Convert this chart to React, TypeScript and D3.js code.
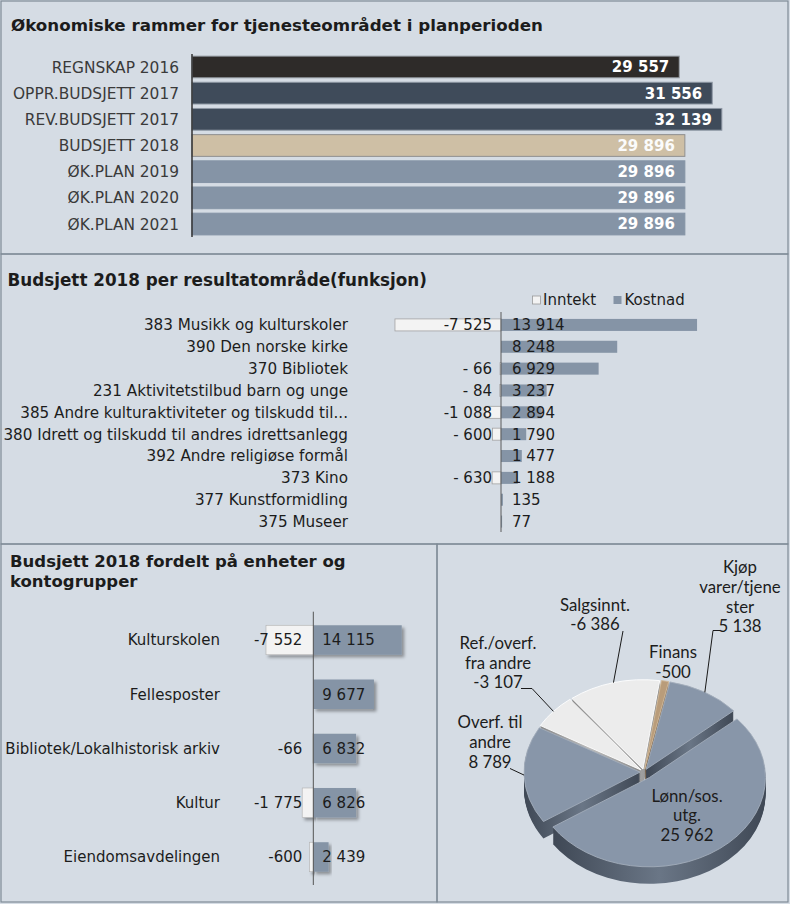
import React from "react";
import * as d3 from "d3";

// ---------- DATA ----------
const frameCategories = [
  "REGNSKAP 2016",
  "OPPR.BUDSJETT 2017",
  "REV.BUDSJETT 2017",
  "BUDSJETT 2018",
  "ØK.PLAN 2019",
  "ØK.PLAN 2020",
  "ØK.PLAN 2021",
];
const frameValues = [29557, 31556, 32139, 29896, 29896, 29896, 29896];

const functionCategories = [
  "383 Musikk og kulturskoler",
  "390 Den norske kirke",
  "370 Bibliotek",
  "231 Aktivitetstilbud barn og unge",
  "385 Andre kulturaktiviteter og tilskudd til...",
  "380 Idrett og tilskudd til andres idrettsanlegg",
  "392 Andre religiøse formål",
  "373 Kino",
  "377 Kunstformidling",
  "375 Museer",
];
const functionInntekt = [-7525, null, -66, -84, -1088, -600, null, -630, null, null];
const functionKostnad = [13914, 8248, 6929, 3237, 2894, 1790, 1477, 1188, 135, 77];

const unitCategories = [
  "Kulturskolen",
  "Fellesposter",
  "Bibliotek/Lokalhistorisk arkiv",
  "Kultur",
  "Eiendomsavdelingen",
];
const unitInntekt = [-7552, null, -66, -1775, -600];
const unitKostnad = [14115, 9677, 6832, 6826, 2439];

const accountGroups = [
  "Lønn/sos. utg.",
  "Overf. til andre",
  "Ref./overf. fra andre",
  "Salgsinnt.",
  "Finans",
  "Kjøp varer/tjenester",
];
const accountLabelLines = [
  ["Lønn/sos.", "utg."],
  ["Overf. til", "andre"],
  ["Ref./overf.", "fra andre"],
  ["Salgsinnt."],
  ["Finans"],
  ["Kjøp", "varer/tjene", "ster"],
];
const accountValues = [25962, 8789, -3107, -6386, -500, 5138];

const seriesNames = ["Inntekt", "Kostnad"];

// ---------- STYLE ----------
const W = 790;
const H = 904;
const BG = "#d5dce4";
const BORDER = "#7f8b97";
const FONT = "'DejaVu Sans', Verdana, sans-serif";
const PIE_FONT = "Lato, 'Open Sans', sans-serif";
const KOST = "#8594a6";
const INNT = "#f3f3f3";
const TXT = "#1c1c1c";

const locale = d3.formatLocale({
  decimal: ",",
  thousands: "\u00a0",
  grouping: [3],
  currency: ["", ""],
  minus: "-",
});
const fmt = locale.format(",d");
const fmtAcc = (v: number) =>
  Math.abs(v) >= 1000 ? "-" + fmt(Math.abs(v)) : "- " + fmt(Math.abs(v));

const frameColors = ["#2e2b29", "#3f4b5a", "#3f4b5a", "#cebfa5", KOST, KOST, KOST];
const frameStrokes = ["#9aa1a8", "#8d97a3", "#8d97a3", "#8f8f8f", KOST, KOST, KOST];

function Panel1() {
  const x = d3.scaleLinear().domain([0, 35000]).range([192, 769]);
  const y = d3
    .scaleBand<string>()
    .domain(frameCategories)
    .range([54, 237])
    .paddingInner(0.17)
    .paddingOuter(0.08);
  return (
    <g>
      <text x={11} y={30.5} fontFamily={FONT} fontWeight="bold" fontSize={16.7} fill={TXT}>
        Økonomiske rammer for tjenesteområdet i planperioden
      </text>
      {frameCategories.map((c, i) => {
        const yy = y(c)!;
        const bw = y.bandwidth();
        return (
          <g key={c}>
            <rect
              x={x(0)}
              y={yy}
              width={x(frameValues[i]) - x(0)}
              height={bw}
              fill={frameColors[i]}
              stroke={frameStrokes[i]}
              strokeWidth={1}
            />
            <text
              x={x(frameValues[i]) - 10}
              y={yy + bw / 2}
              dy="0.36em"
              textAnchor="end"
              fontFamily={FONT}
              fontWeight="bold"
              fontSize={15}
              fill={i === 3 ? "#fbfbfb" : "#ffffff"}
            >
              {fmt(frameValues[i])}
            </text>
            <text
              x={179}
              y={yy + bw / 2}
              dy="0.36em"
              textAnchor="end"
              fontFamily={FONT}
              fontSize={15.4}
              fill="#3a3a3a"
            >
              {c}
            </text>
          </g>
        );
      })}
      <line x1={x(0)} x2={x(0)} y1={54} y2={237} stroke="#333" strokeWidth={1.5} />
    </g>
  );
}

function Panel2() {
  const x = d3.scaleLinear().domain([-10000, 15000]).range([360.1, 712.35]);
  const y = d3
    .scaleBand<string>()
    .domain(functionCategories)
    .range([314, 532.5])
    .paddingInner(0.45)
    .paddingOuter(0.225);
  const bw = y.bandwidth();
  return (
    <g>
      <text x={7.5} y={286} fontFamily={FONT} fontWeight="bold" fontSize={16.8} fill={TXT}>
        Budsjett 2018 per resultatområde(funksjon)
      </text>
      {/* legend */}
      <rect x={532.5} y={296} width={8} height={8} fill={INNT} stroke="#9a9a9a" strokeWidth={0.8} />
      <text x={543} y={305} fontFamily={FONT} fontSize={15} fill={TXT}>
        {seriesNames[0]}
      </text>
      <rect x={613.5} y={296} width={8} height={8} fill={KOST} />
      <text x={624.5} y={305} fontFamily={FONT} fontSize={15} fill={TXT}>
        {seriesNames[1]}
      </text>
      {functionCategories.map((c, i) => {
        const cy = y(c)! + bw / 2;
        const inn = functionInntekt[i];
        const kos = functionKostnad[i];
        return (
          <g key={c}>
            {inn != null && (
              <rect
                x={x(inn)}
                y={y(c)!}
                width={x(0) - x(inn)}
                height={bw}
                fill={INNT}
                stroke="#a3a3a3"
                strokeWidth={0.8}
              />
            )}
            <rect x={x(0)} y={y(c)!} width={x(kos) - x(0)} height={bw} fill={KOST} />
            {inn != null && (
              <text
                x={x(0) - 9}
                y={cy}
                dy="0.36em"
                textAnchor="end"
                fontFamily={FONT}
                fontSize={15}
                fill={TXT}
              >
                {fmtAcc(inn)}
              </text>
            )}
            <text x={x(0) + 11} y={cy} dy="0.36em" fontFamily={FONT} fontSize={15} fill={TXT}>
              {fmt(kos)}
            </text>
            <text
              x={348}
              y={cy}
              dy="0.36em"
              textAnchor="end"
              fontFamily={FONT}
              fontSize={15.2}
              fill={TXT}
            >
              {c}
            </text>
          </g>
        );
      })}
      <line x1={x(0)} x2={x(0)} y1={312} y2={532} stroke="#5a5a5a" strokeWidth={1} />
    </g>
  );
}

function Panel3() {
  const x = d3.scaleLinear().domain([-10000, 20000]).range([250.67, 438.6]);
  const y = d3
    .scaleBand<string>()
    .domain(unitCategories)
    .range([612.9, 884.1])
    .paddingInner(0.456)
    .paddingOuter(0.228);
  const bw = y.bandwidth();
  return (
    <g>
      <text x={10} y={566.5} fontFamily={FONT} fontWeight="bold" fontSize={16.5} fill={TXT}>
        Budsjett 2018 fordelt på enheter og
      </text>
      <text x={10} y={586.5} fontFamily={FONT} fontWeight="bold" fontSize={16.5} fill={TXT}>
        kontogrupper
      </text>
      {unitCategories.map((c, i) => {
        const cy = y(c)! + bw / 2;
        const inn = unitInntekt[i];
        const kos = unitKostnad[i];
        return (
          <g key={c}>
            {inn != null && (
              <rect
                x={x(inn)}
                y={y(c)!}
                width={x(0) - x(inn)}
                height={bw}
                fill={INNT}
                stroke="#b0b0b0"
                strokeWidth={0.6}
                filter="url(#shadow)"
              />
            )}
            <rect
              x={x(0)}
              y={y(c)!}
              width={x(kos) - x(0)}
              height={bw}
              fill={KOST}
              filter="url(#shadow)"
            />
            {inn != null && (
              <text
                x={x(0) - 11}
                y={cy}
                dy="0.36em"
                textAnchor="end"
                fontFamily={FONT}
                fontSize={15}
                fill={TXT}
              >
                {fmt(inn)}
              </text>
            )}
            <text x={x(0) + 9} y={cy} dy="0.36em" fontFamily={FONT} fontSize={15} fill={TXT}>
              {fmt(kos)}
            </text>
            <text
              x={220}
              y={cy}
              dy="0.36em"
              textAnchor="end"
              fontFamily={FONT}
              fontSize={15}
              fill={TXT}
            >
              {c}
            </text>
          </g>
        );
      })}
      <line x1={x(0)} x2={x(0)} y1={611.7} y2={885} stroke="#555" strokeWidth={1} />
    </g>
  );
}

const pieTop = ["#8896a9", "#8896a9", "#ececec", "#ececec", "#b99c7a", "#8896a9"];
const pieSide = ["url(#sideBlue)", "url(#sideBlue)", "url(#sideWhite)", "url(#sideWhite)", "url(#sideTan)", "url(#sideBlue)"];
const pieEdge = ["#a3adbb", "#a3adbb", "#ffffff", "#ffffff", "#d2bb9c", "#a3adbb"];

// label layout (positions of text blocks and leader anchors)
const pieLabelLayout = [
  { x: 687, y: 801.5, leader: null as number[][] | null },
  { x: 490, y: 728.3, leader: [[510, 768.5]] },
  { x: 498, y: 649, leader: [[521, 688.5], [532, 688.5]] },
  { x: 595, y: 610.7, leader: [[623, 631]] },
  { x: 673, y: 658.3, leader: null },
  { x: 740, y: 573.3, leader: [[720, 630.5], [713, 630.5]] },
];

function Panel4() {
  const cx = 644;
  const cy = 772;
  const rx = 116;
  const ratio = 0.77;
  const depth = 17;
  const start = (49 * Math.PI) / 180;
  const pie = d3
    .pie<number>()
    .sort(null)
    .value((d) => Math.abs(d))
    .startAngle(start)
    .endAngle(start + 2 * Math.PI);
  const arcs = pie(accountValues);
  const arc = d3.arc<d3.PieArcDatum<number>>().innerRadius(0).outerRadius(rx);
  const explode = (i: number) => (i === 0 ? 9 : 4);
  const off = (a: d3.PieArcDatum<number>, i: number) => {
    const m = (a.startAngle + a.endAngle) / 2;
    return [Math.sin(m) * explode(i), -Math.cos(m) * explode(i)];
  };
  const layers = d3.range(depth, 0, -1);
  const lh = 19.6;
  return (
    <g>
      {/* side walls */}
      {layers.map((k) => (
        <g key={"l" + k} transform={`translate(${cx},${cy + k}) scale(1,${ratio})`}>
          {arcs.map((a, i) => {
            const [dx, dy] = off(a, i);
            return (
              <path
                key={i}
                d={arc(a)!}
                transform={`translate(${dx},${dy})`}
                fill={pieSide[i]}
              />
            );
          })}
        </g>
      ))}
      {/* top faces */}
      <g transform={`translate(${cx},${cy}) scale(1,${ratio})`}>
        {arcs.map((a, i) => {
          const [dx, dy] = off(a, i);
          return (
            <path
              key={i}
              d={arc(a)!}
              transform={`translate(${dx},${dy})`}
              fill={pieTop[i]}
              stroke={pieEdge[i]}
              strokeWidth={1}
            />
          );
        })}
      </g>
      {/* leaders + labels */}
      {arcs.map((a, i) => {
        const L = pieLabelLayout[i];
        const m = (a.startAngle + a.endAngle) / 2;
        const r = rx + explode(i);
        const ex = cx + Math.sin(m) * r;
        const ey = cy - Math.cos(m) * r * ratio;
        const lines = [...accountLabelLines[i], fmt(accountValues[i])];
        return (
          <g key={"lab" + i}>
            {L.leader && (
              <polyline
                points={[...L.leader, [ex, ey]].map((p) => p.join(",")).join(" ")}
                fill="none"
                stroke="#1a1a1a"
                strokeWidth={1}
              />
            )}
            {lines.map((t, j) => (
              <text
                key={j}
                x={L.x}
                y={L.y + j * lh}
                textAnchor="middle"
                fontFamily={PIE_FONT}
                fontSize={16.8}
                fill={TXT}
              >
                {t}
              </text>
            ))}
          </g>
        );
      })}
    </g>
  );
}

export default function App() {
  return (
    <svg
      width={W}
      height={H}
      style={{ position: "absolute", left: 0, top: 0, display: "block" }}
    >
      <defs>
        <filter id="shadow" x="-10%" y="-20%" width="130%" height="160%">
          <feDropShadow dx="2.5" dy="2.5" stdDeviation="1.4" floodColor="#000" floodOpacity="0.35" />
        </filter>
        <linearGradient id="sideBlue" x1="0" x2="1" y1="0" y2="0">
          <stop offset="0" stopColor="#3f4855" />
          <stop offset="0.5" stopColor="#6a7686" />
          <stop offset="1" stopColor="#3f4855" />
        </linearGradient>
        <linearGradient id="sideWhite" x1="0" x2="1" y1="0" y2="0">
          <stop offset="0" stopColor="#8a8a8a" />
          <stop offset="0.5" stopColor="#bcbcbc" />
          <stop offset="1" stopColor="#8a8a8a" />
        </linearGradient>
        <linearGradient id="sideTan" x1="0" x2="1" y1="0" y2="0">
          <stop offset="0" stopColor="#6e563d" />
          <stop offset="1" stopColor="#9c7f60" />
        </linearGradient>
      </defs>
      <rect x={0} y={0} width={W} height={H} fill={BG} />
      {/* panel frames */}
      <rect x={1} y={1} width={787} height={253} fill="none" stroke={BORDER} strokeWidth={1.2} />
      <rect x={1} y={254} width={787} height={290} fill="none" stroke={BORDER} strokeWidth={1.2} />
      <rect x={1} y={544} width={436} height={358} fill="none" stroke={BORDER} strokeWidth={1.2} />
      <rect x={437} y={544} width={351} height={358} fill="none" stroke={BORDER} strokeWidth={1.2} />
      <Panel1 />
      <Panel2 />
      <Panel3 />
      <Panel4 />
    </svg>
  );
}
